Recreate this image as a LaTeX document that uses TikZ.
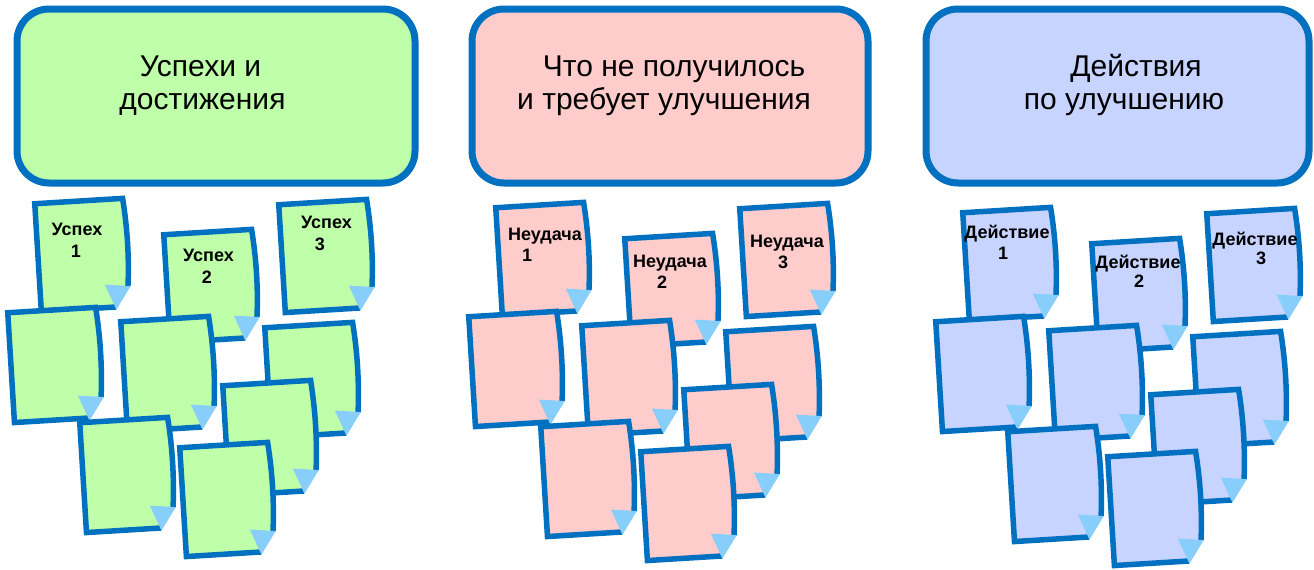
\documentclass[tikz,border=0pt]{standalone}
\usepackage{fontspec}
\setmainfont{Liberation Sans}

\definecolor{edgeblue}{RGB}{0,112,192}
\definecolor{okfill}{RGB}{192,255,170}
\definecolor{badfill}{RGB}{255,204,204}
\definecolor{actfill}{RGB}{198,212,255}
\definecolor{foldblue}{RGB}{135,206,250}

\tikzset{
  header/.style={draw=edgeblue, line width=7pt, rounded corners=32pt},
  headtext/.style={font=\fontsize{30}{33}\selectfont, anchor=base, inner sep=0pt},
  notetext/.style={font=\bfseries\fontsize{18}{21}\selectfont, anchor=base, inner sep=0pt},
  noteedge/.style={draw=edgeblue, line width=5.5pt, line join=miter},
}

% one sticky note: #1,#2 outer top-left corner, #3 fill colour, #4 height
\newcommand\stickynote[4]{%
  \begin{scope}[shift={(#1+2.75,#2+2.75)}, rotate=3.5]
    \fill[#3] (0,0) -- (88,0) .. controls (91,30) and (91,60) .. (88,#4-20)
      -- (75,#4) -- (0,#4) -- cycle;
    \draw[noteedge] (75,#4) -- (0,#4) -- (0,0) -- (88,0)
      .. controls (91,30) and (91,60) .. (88,#4-20);
    \fill[foldblue] (90.75,#4-20) -- (75,#4+2.75) -- (65,#4-23) -- cycle;
  \end{scope}}

% the heap of nine notes under each heading, drawn back to front
\newcommand\notecluster[1]{%
  \foreach \px/\py/\ph in {32/201/108, 161/232/108, 276/202/108,
      5/310/110, 118/319/110, 262/325/110, 220/383/110, 77/420/110, 177/445/109}
    {\stickynote{\px}{\py}{#1}{\ph}}}

\begin{document}
\begin{tikzpicture}[x=1pt, y=-1pt]
  \useasboundingbox (0,0) rectangle (1314,570);

  % headings
  \draw[header, fill=okfill]  (17,9)  rectangle (415,183);
  \draw[header, fill=badfill] (472,9) rectangle (868,183);
  \draw[header, fill=actfill] (926,9) rectangle (1309,183);

  \node[headtext] (h1a) at (200.5,76) {Успехи и};
  \node[headtext] (h1b) at (202.5,109) {достижения};
  \node[headtext] (h2a) at (674,76) {Что не получилось};
  \node[headtext] (h2b) at (664,109) {и требует улучшения};
  \node[headtext] (h3a) at (1136,76) {Действия};
  \node[headtext] (h3b) at (1124,109) {по улучшению};

  % note heaps
  \notecluster{okfill}
  \begin{scope}[shift={(461,4)}]\notecluster{badfill}\end{scope}
  \begin{scope}[shift={(928,9)}]\notecluster{actfill}\end{scope}

  % labels on the three top notes of each heap
  \node[notetext] (g1a) at (77,235)  {Успех};
  \node[notetext] (g1b) at (76,257)  {1};
  \node[notetext] (g2a) at (208.5,261) {Успех};
  \node[notetext] (g2b) at (207,283) {2};
  \node[notetext] (g3a) at (326.5,228) {Успех};
  \node[notetext] (g3b) at (320,250) {3};

  \node[notetext] (p1a) at (545,240) {Неудача};
  \node[notetext] (p1b) at (527,261) {1};
  \node[notetext] (p2a) at (670,267) {Неудача};
  \node[notetext] (p2b) at (662,288) {2};
  \node[notetext] (p3a) at (787,247) {Неудача};
  \node[notetext] (p3b) at (783,268) {3};

  \node[notetext] (b1a) at (1007,238) {Действие};
  \node[notetext] (b1b) at (1003,259) {1};
  \node[notetext] (b2a) at (1138,268) {Действие};
  \node[notetext] (b2b) at (1139,287) {2};
  \node[notetext] (b3a) at (1255,245) {Действие};
  \node[notetext] (b3b) at (1261,264) {3};
\end{tikzpicture}
\end{document}
